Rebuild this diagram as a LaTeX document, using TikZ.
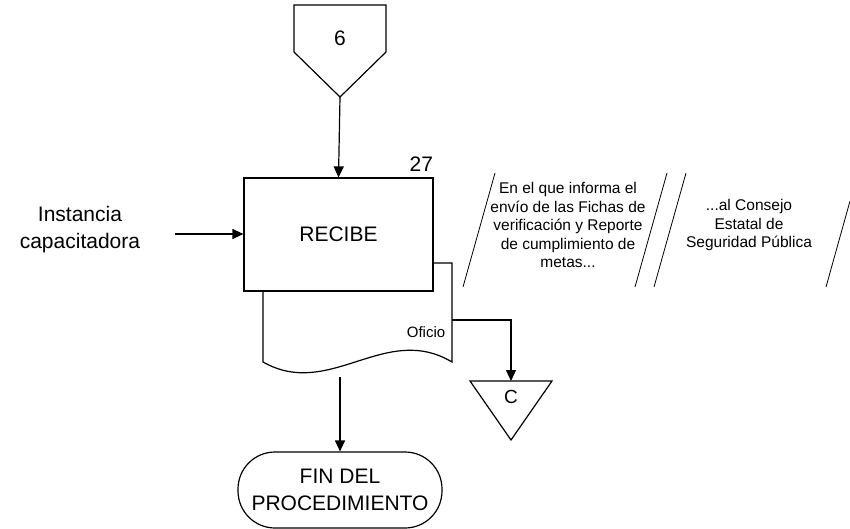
\documentclass[tikz,border=0pt]{standalone}
\usepackage{fontspec}
\setmainfont{Liberation Sans}
\usetikzlibrary{arrows.meta}
\begin{document}
\begin{tikzpicture}[x=1pt,y=-1pt,line width=1.2pt,
  flow/.style={-{Triangle[length=11pt,width=10pt]}},
  big/.style={font=\fontsize{21}{27}\selectfont},
  small/.style={font=\fontsize{15.5}{18.5}\selectfont,align=center}]
  \useasboundingbox (0,0) rectangle (850,529);
  \draw (294,5) -- (386,5) -- (386,52) -- (340,97) -- (294,52) -- cycle;
  \node[big] (pag) at (340,38) {6};
  \coordinate (pagtip) at (340,97);
  \draw[fill=white] (263,263) -- (452,263) -- (452,362)
    .. controls (385,322) and (330,400) .. (263,362) -- cycle;
  \node[draw,fill=white,minimum width=189pt,minimum height=113pt,big] (recibe) at (338.5,234.5) {RECIBE};
  \node[big,anchor=base east,inner sep=0pt] (num) at ([yshift=6pt]recibe.north east) {27};
  \node[font=\fontsize{15}{18}\selectfont] (oficio) at (426,332) {Oficio};
  \coordinate (docout) at (452,320);
  \coordinate (docbend) at (511,320);
  \coordinate (docbot) at (340,377);
  \draw (470,381) -- (552,381) -- (511,440) -- cycle;
  \node[font=\fontsize{19}{22}\selectfont] (conc) at (511,397) {C};
  \coordinate (conctop) at (511,381);
  \node[draw,rounded corners=37pt,minimum width=204pt,minimum height=76pt,big,align=center] (fin) at (340,490) {FIN DEL\\PROCEDIMIENTO};
  \node[big,align=center,anchor=east] (inst) at (144,230) {Instancia\\capacitadora};
  \coordinate (instout) at (175,234);
  \draw[flow] (pagtip) -- (recibe.north);
  \draw[flow] (instout) -- (recibe.west |- instout);
  \draw[flow] (docout) -- (docbend) -- (conctop);
  \draw[flow] (docbot) -- (fin.north);
  \foreach \a/\b in {495/463,667/635,686/654}
    \draw[line width=0.8pt] (\a,173) -- (\b,287);
  \draw[line width=0.8pt] (850,201) -- (826,287);
  \node[small] (nota1) at (568,225) {En el que informa el\\envío de las Fichas de\\verificación y Reporte\\de cumplimiento de\\metas...};
  \node[small] (nota2) at (749,225) {...al Consejo\\Estatal de\\Seguridad Pública};
\end{tikzpicture}
\end{document}
